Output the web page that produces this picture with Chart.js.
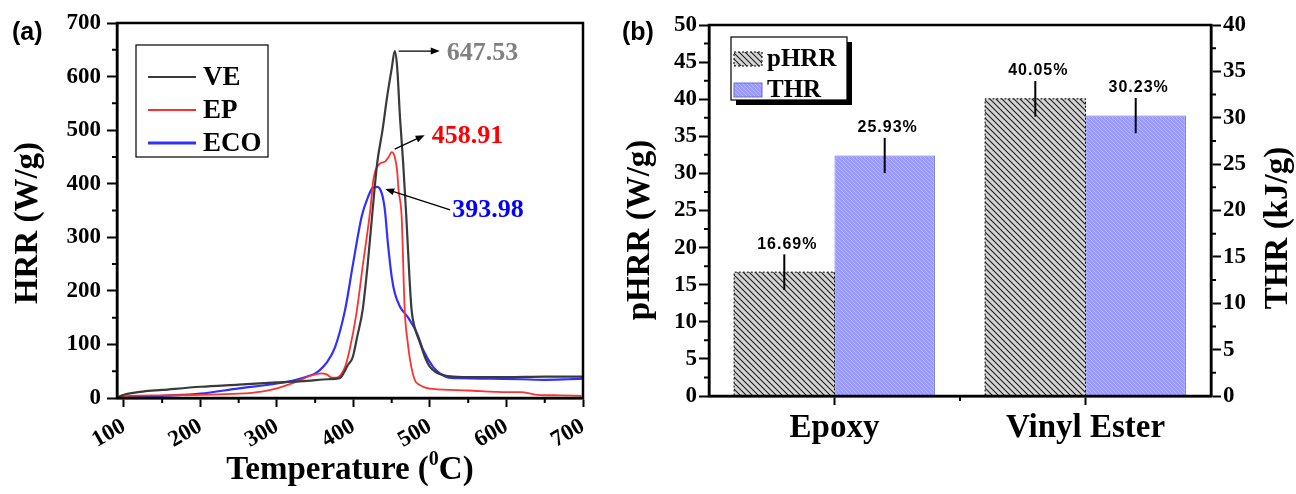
<!DOCTYPE html>
<html>
<head>
<meta charset="utf-8">
<script src="https://cdn.jsdelivr.net/npm/chart.js@4/dist/chart.umd.min.js"></script>
<style>
  html, body { margin: 0; padding: 0; background: #fff; }
  #wrapA { position: absolute; left: 0; top: 0; width: 615px; height: 494px; }
  #wrapB { position: absolute; left: 615px; top: 0; width: 681px; height: 494px; }
</style>
</head>
<body>
<div id="wrapA"><canvas id="hrrChart"></canvas></div>
<div id="wrapB"><canvas id="barChart"></canvas></div>
<script>
// --- panel (a): HRR curves ---
const veTemp = [92, 100, 125, 150, 200, 250, 300, 340, 367, 382, 393, 399, 405, 412, 419, 425, 431, 438, 444, 450, 454, 457, 461, 465, 469, 473, 476, 480, 487, 493, 500, 508, 517, 530, 560, 600, 650, 700];
const veHRR  = [2, 6, 12, 15, 21, 25, 29, 32, 35, 37, 62, 76, 115, 164, 255, 350, 438, 500, 562, 615, 647.53, 620, 520, 438, 341, 230, 164, 132, 103, 78, 58, 48, 43, 40, 39, 39, 40, 40];

const epTemp = [92, 100, 150, 200, 250, 280, 300, 325, 345, 358, 365, 372, 378, 389, 395, 404, 412, 422, 426, 435, 441, 446, 450, 454, 457, 459, 463, 467, 471, 474, 480, 487, 495, 504, 550, 601, 618, 640, 670, 698];
const epHRR  = [0, 3, 5, 6, 8, 12, 18, 30, 42, 46, 44, 38, 38, 58, 90, 159, 245, 351, 407, 438, 441, 450, 458.91, 450, 425, 388, 338, 164, 103, 71, 34, 24, 19, 17, 14, 11, 11, 6, 5, 4];

const ecoTemp = [92, 100, 150, 200, 250, 300, 330, 350, 356, 365, 376, 389, 400, 411, 419, 425, 431, 437, 441, 445, 450, 454, 461, 471, 483, 491, 504, 513, 522, 540, 580, 620, 650, 680, 700];
const ecoHRR  = [0, 1, 4, 8, 18, 27, 36, 46, 52, 66, 95, 164, 255, 340, 375, 392, 393.98, 382, 352, 289, 226, 196, 170, 151, 121, 90, 58, 46, 39, 37, 36, 35, 34, 35, 36];

const seriesNames = ['VE', 'EP', 'ECO'];
const tempTicks = [100, 200, 300, 400, 500, 600, 700];
const hrrTicks = [0, 100, 200, 300, 400, 500, 600, 700];

// --- panel (b): pHRR / THR bars ---
const materials = ['Epoxy', 'Vinyl Ester'];
const pHRR = [16.69, 40.05];
const pHRRErr = [2.4, 2.4];
const pHRRText = ['16.69%', '40.05%'];
const THR = [25.93, 30.23];
const THRErr = [1.9, 1.9];
const THRText = ['25.93%', '30.23%'];
const pHRRTicks = [0, 5, 10, 15, 20, 25, 30, 35, 40, 45, 50];
const THRTicks = [0, 5, 10, 15, 20, 25, 30, 35, 40];

const serif = "'Liberation Serif', 'Times New Roman', serif";
const sans = "'Liberation Sans', Arial, sans-serif";
Chart.defaults.font.family = serif;
Chart.defaults.color = '#000';
Chart.defaults.animation = false;

const tickFont = { family: serif, size: 23, weight: 'bold' };
const toPoints = (xs, ys) => xs.map((t, i) => ({ x: t, y: ys[i] }));
const minorOf = ticks => ticks.slice(1).map((v, i) => (v + ticks[i]) / 2);

function drawArrow(ctx, x1, y1, x2, y2) {
    const ang = Math.atan2(y2 - y1, x2 - x1), h = 9, w = 3.5;
    const c = Math.cos(ang), s = Math.sin(ang);
    ctx.beginPath();
    ctx.moveTo(x1, y1);
    ctx.lineTo(x2 - c * h * 0.8, y2 - s * h * 0.8);
    ctx.stroke();
    ctx.beginPath();
    ctx.moveTo(x2, y2);
    ctx.lineTo(x2 - h * c + w * s, y2 - h * s - w * c);
    ctx.lineTo(x2 - h * c - w * s, y2 - h * s + w * c);
    ctx.closePath();
    ctx.fill();
}

function makeHatch(bg, line, size, lw) {
    const c = document.createElement('canvas');
    c.width = size; c.height = size;
    const g = c.getContext('2d');
    g.fillStyle = bg;
    g.fillRect(0, 0, size, size);
    g.strokeStyle = line;
    g.lineWidth = lw;
    g.beginPath();
    g.moveTo(-1, -1); g.lineTo(size + 1, size + 1);
    g.moveTo(-1, size - 1); g.lineTo(1, size + 1);
    g.moveTo(size - 1, -1); g.lineTo(size + 1, 1);
    g.stroke();
    return g.createPattern(c, 'repeat');
}

// --- Panel (a) extras: frame, minor ticks, peak labels, legend, titles --- //
const lineColors = ['#3a3a3a', '#ff3030', '#3030ff'];
const lineWidths = [2.2, 1.8, 2.2];
const peakColors = ['#808080', '#ff0000', '#0000ff'];

const panelA = {
    id: 'panelA',
    afterDraw(chart) {
        const { ctx, chartArea: a, scales: { x, y } } = chart;
        ctx.save();
        ctx.strokeStyle = '#000';
        ctx.lineWidth = 2.5;
        ctx.strokeRect(a.left, a.top, a.right - a.left, a.bottom - a.top);

        ctx.lineWidth = 2;
        ctx.beginPath();
        minorOf(hrrTicks).forEach(v => {
            const p = y.getPixelForValue(v);
            ctx.moveTo(a.left - 5, p); ctx.lineTo(a.left, p);
        });
        minorOf(tempTicks).forEach(v => {
            const p = x.getPixelForValue(v);
            ctx.moveTo(p, a.bottom); ctx.lineTo(p, a.bottom + 5);
        });
        ctx.stroke();

        // peak annotations
        const offsets = [
            { from: [4, 0], to: [45, 0], text: [52, 2] },
            { from: [3, -3], to: [33, -17], text: [40, -16] },
            { from: [73, 23], to: [8, 2], text: [75, 23] }
        ];
        ctx.strokeStyle = '#000';
        ctx.lineWidth = 1.3;
        chart.data.datasets.forEach((ds, i) => {
            const peak = ds.data.reduce((m, p) => (p.y > m.y ? p : m));
            const px = x.getPixelForValue(peak.x), py = y.getPixelForValue(peak.y);
            const o = offsets[i];
            ctx.fillStyle = '#000';
            drawArrow(ctx, px + o.from[0], py + o.from[1], px + o.to[0], py + o.to[1]);
            ctx.font = 'bold 26px ' + serif;
            ctx.fillStyle = peakColors[i];
            ctx.textAlign = 'left';
            ctx.textBaseline = 'middle';
            ctx.fillText(peak.y.toFixed(2), px + o.text[0], py + o.text[1]);
        });

        // legend
        const lx = a.left + 19, ly = a.top + 22;
        ctx.fillStyle = '#fff';
        ctx.fillRect(lx, ly, 132, 112);
        ctx.strokeStyle = '#000';
        ctx.lineWidth = 1.2;
        ctx.strokeRect(lx, ly, 132, 112);
        seriesNames.forEach((name, i) => {
            const ry = ly + 32 + i * 33;
            ctx.strokeStyle = lineColors[i];
            ctx.lineWidth = i === 2 ? 3 : 1.8;
            ctx.beginPath();
            ctx.moveTo(lx + 12, ry); ctx.lineTo(lx + 60, ry);
            ctx.stroke();
            ctx.fillStyle = '#000';
            ctx.font = 'bold 27px ' + serif;
            ctx.textAlign = 'left';
            ctx.textBaseline = 'middle';
            ctx.fillText(name, lx + 67, ry + 1);
        });

        // axis titles
        ctx.fillStyle = '#000';
        ctx.font = 'bold 33px ' + serif;
        ctx.textAlign = 'center';
        ctx.textBaseline = 'middle';
        ctx.save();
        ctx.translate(28, 223);
        ctx.rotate(-Math.PI / 2);
        ctx.fillText('HRR (W/g)', 0, 0);
        ctx.restore();

        const t1 = 'Temperature (', t2 = '0', t3 = 'C)';
        ctx.font = 'bold 33px ' + serif;
        const w1 = ctx.measureText(t1).width, w3 = ctx.measureText(t3).width;
        ctx.font = 'bold 20px ' + serif;
        const w2 = ctx.measureText(t2).width;
        const sx = 350 - (w1 + w2 + w3) / 2;
        ctx.textAlign = 'left';
        ctx.font = 'bold 33px ' + serif;
        ctx.fillText(t1, sx, 470);
        ctx.font = 'bold 20px ' + serif;
        ctx.fillText(t2, sx + w1, 460);
        ctx.font = 'bold 33px ' + serif;
        ctx.fillText(t3, sx + w1 + w2, 470);

        ctx.font = 'bold 25px ' + sans;
        ctx.fillText('(a)', 12, 33);
        ctx.restore();
    }
};

new Chart(document.getElementById('hrrChart').getContext('2d'), {
    type: 'line',
    data: {
        datasets: [
            { label: seriesNames[0], data: toPoints(veTemp, veHRR) },
            { label: seriesNames[1], data: toPoints(epTemp, epHRR) },
            { label: seriesNames[2], data: toPoints(ecoTemp, ecoHRR) }
        ].map((ds, i) => Object.assign(ds, {
            borderColor: lineColors[i],
            borderWidth: lineWidths[i],
            pointRadius: 0,
            fill: false,
            cubicInterpolationMode: 'monotone'
        }))
    },
    options: {
        responsive: true,
        maintainAspectRatio: false,
        layout: { padding: { top: 23, right: 32, left: 0, bottom: 0 } },
        plugins: { legend: { display: false }, tooltip: { enabled: false } },
        scales: {
            x: {
                type: 'linear',
                min: 91,
                max: 700,
                afterBuildTicks: s => { s.ticks = tempTicks.map(v => ({ value: v })); },
                afterFit: s => { s.height = 96; },
                grid: { drawOnChartArea: false, tickLength: 9, tickColor: '#000', tickWidth: 2 },
                border: { color: '#000', width: 2.5 },
                ticks: { autoSkip: false, minRotation: 30, maxRotation: 30, padding: 6, font: tickFont }
            },
            y: {
                min: 0,
                max: 700,
                afterBuildTicks: s => { s.ticks = hrrTicks.map(v => ({ value: v })); },
                afterFit: s => { s.width = 117; },
                grid: { drawOnChartArea: false, tickLength: 10, tickColor: '#000', tickWidth: 2 },
                border: { color: '#000', width: 2.5 },
                ticks: { padding: 6, font: tickFont }
            }
        }
    },
    plugins: [panelA]
});

// --- Panel (b) --- //
const grayHatch = makeHatch('#d4d4d4', '#1e1e1e', 6, 1.1);
const blueHatch = makeHatch('#9999ff', '#b8b8ff', 4, 1);

const panelB = {
    id: 'panelB',
    afterDatasetsDraw(chart) {
        const { ctx } = chart;
        ctx.save();
        // dotted outline on the pHRR bars
        ctx.strokeStyle = '#000';
        ctx.lineWidth = 1;
        ctx.setLineDash([2, 2]);
        chart.getDatasetMeta(0).data.forEach(bar => {
            const l = bar.x - bar.width / 2;
            ctx.beginPath();
            ctx.moveTo(l, bar.base); ctx.lineTo(l, bar.y);
            ctx.lineTo(l + bar.width, bar.y); ctx.lineTo(l + bar.width, bar.base);
            ctx.stroke();
        });
        ctx.setLineDash([]);

        // error bars and value labels
        const errs = [pHRRErr, THRErr];
        const texts = [pHRRText, THRText];
        chart.data.datasets.forEach((ds, i) => {
            const scale = chart.scales[ds.yAxisID];
            chart.getDatasetMeta(i).data.forEach((bar, j) => {
                const v = ds.data[j];
                const top = scale.getPixelForValue(v + errs[i][j]);
                const bot = scale.getPixelForValue(v - errs[i][j]);
                ctx.strokeStyle = '#000';
                ctx.lineWidth = 2;
                ctx.beginPath();
                ctx.moveTo(bar.x, top); ctx.lineTo(bar.x, bot);
                ctx.stroke();
                ctx.fillStyle = '#000';
                ctx.font = 'bold 16px ' + sans;
                ctx.letterSpacing = '1px';
                ctx.textAlign = 'center';
                ctx.textBaseline = 'bottom';
                ctx.fillText(texts[i][j], bar.x + 3, top - 2);
                ctx.letterSpacing = '0px';
            });
        });
        ctx.restore();
    },
    afterDraw(chart) {
        const { ctx, chartArea: a, scales: { x, y, y1 } } = chart;
        ctx.save();
        ctx.strokeStyle = '#000';
        ctx.lineWidth = 2.5;
        ctx.strokeRect(a.left, a.top, a.right - a.left, a.bottom - a.top);

        ctx.lineWidth = 2;
        ctx.beginPath();
        minorOf(pHRRTicks).forEach(v => {
            const p = y.getPixelForValue(v);
            ctx.moveTo(a.left - 5, p); ctx.lineTo(a.left, p);
        });
        minorOf(THRTicks).forEach(v => {
            const p = y1.getPixelForValue(v);
            ctx.moveTo(a.right, p); ctx.lineTo(a.right + 5, p);
        });
        const mid = (x.getPixelForValue(0) + x.getPixelForValue(1)) / 2;
        ctx.moveTo(mid, a.bottom); ctx.lineTo(mid, a.bottom + 5);
        ctx.stroke();

        // legend with drop shadow
        const lx = a.left + 22, ly = a.top + 12, lw = 116, lh = 63;
        ctx.fillStyle = '#000';
        ctx.fillRect(lx + 5, ly + 5, lw, lh);
        ctx.fillStyle = '#fff';
        ctx.fillRect(lx, ly, lw, lh);
        ctx.lineWidth = 1.2;
        ctx.strokeRect(lx, ly, lw, lh);
        chart.data.datasets.forEach((ds, i) => {
            const sy = ly + 15 + i * 31;
            ctx.fillStyle = ds.backgroundColor;
            ctx.fillRect(lx + 3, sy, 28, 14);
            ctx.strokeStyle = i === 0 ? '#000' : '#6a6acc';
            ctx.lineWidth = 1;
            if (i === 0) ctx.setLineDash([2, 2]);
            ctx.strokeRect(lx + 3, sy, 28, 14);
            ctx.setLineDash([]);
            ctx.fillStyle = '#000';
            ctx.font = 'bold 25px ' + serif;
            ctx.textAlign = 'left';
            ctx.textBaseline = 'middle';
            ctx.fillText(ds.label, lx + 36, sy + 8);
        });

        // axis titles
        ctx.fillStyle = '#000';
        ctx.font = 'bold 33px ' + serif;
        ctx.textAlign = 'center';
        ctx.textBaseline = 'middle';
        ctx.save();
        ctx.translate(25, 230);
        ctx.rotate(-Math.PI / 2);
        ctx.fillText('pHRR (W/g)', 0, 0);
        ctx.restore();
        ctx.save();
        ctx.translate(663, 228);
        ctx.rotate(-Math.PI / 2);
        ctx.fillText('THR (kJ/g)', 0, 0);
        ctx.restore();

        ctx.font = 'bold 25px ' + sans;
        ctx.textAlign = 'left';
        ctx.fillText('(b)', 7, 33);
        ctx.restore();
    }
};

new Chart(document.getElementById('barChart').getContext('2d'), {
    type: 'bar',
    data: {
        labels: materials,
        datasets: [
            { label: 'pHRR', data: pHRR, yAxisID: 'y', backgroundColor: grayHatch, borderWidth: 0 },
            { label: 'THR', data: THR, yAxisID: 'y1', backgroundColor: blueHatch, borderColor: '#6a6acc', borderWidth: 1 }
        ]
    },
    options: {
        responsive: true,
        maintainAspectRatio: false,
        categoryPercentage: 0.8,
        barPercentage: 1.0,
        layout: { padding: { top: 25, right: 0, left: 0, bottom: 0 } },
        plugins: { legend: { display: false }, tooltip: { enabled: false } },
        scales: {
            x: {
                afterFit: s => { s.height = 98; },
                grid: { offset: false, drawOnChartArea: false, tickLength: 9, tickColor: '#000', tickWidth: 2 },
                border: { color: '#000', width: 2.5 },
                ticks: { padding: 4, font: { family: serif, size: 33, weight: 'bold' } }
            },
            y: {
                position: 'left',
                min: 0,
                max: 50,
                afterBuildTicks: s => { s.ticks = pHRRTicks.map(v => ({ value: v })); },
                afterFit: s => { s.width = 94; },
                grid: { drawOnChartArea: false, tickLength: 10, tickColor: '#000', tickWidth: 2 },
                border: { color: '#000', width: 2.5 },
                ticks: { padding: 2, font: tickFont }
            },
            y1: {
                position: 'right',
                min: 0,
                max: 40,
                afterBuildTicks: s => { s.ticks = THRTicks.map(v => ({ value: v })); },
                afterFit: s => { s.width = 85; },
                grid: { drawOnChartArea: false, tickLength: 10, tickColor: '#000', tickWidth: 2 },
                border: { color: '#000', width: 2.5 },
                ticks: { padding: 2, font: tickFont }
            }
        }
    },
    plugins: [panelB]
});
</script>
</body>
</html>
